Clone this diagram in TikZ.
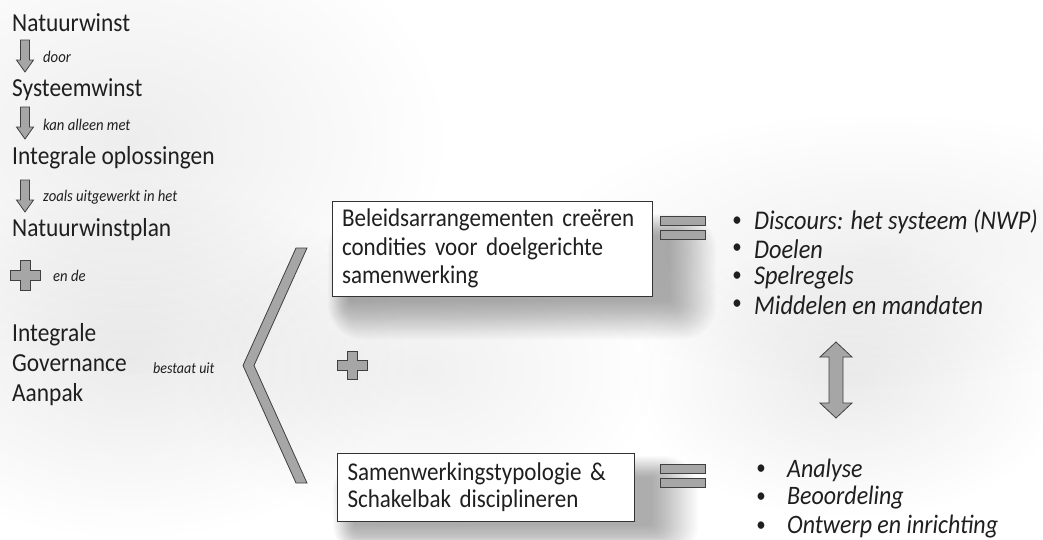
\documentclass[tikz,border=0pt]{standalone}
\usepackage{fontspec}
\setmainfont{Carlito}[FakeStretch=0.9]
\usetikzlibrary{fadings}
\tikzfading[name=glowfade, inner color=transparent!0, outer color=transparent!100]
\begin{document}
\begin{tikzpicture}[x=1pt,y=-1pt,
  txt/.style={anchor=west,inner sep=0pt,text=black!88,font=\fontsize{26}{30}\selectfont},
  lbl/.style={anchor=west,inner sep=0pt,text=black!88,font=\fontsize{16.3}{18}\selectfont\itshape},
  itm/.style={anchor=west,inner sep=0pt,text=black!88,font=\fontsize{27}{27}\selectfont\itshape},
  bul/.style={anchor=center,inner sep=0pt,text=black!88,font=\fontsize{21}{20}\selectfont},
  boxnode/.style={draw=black!80,line width=0.9pt,fill=white,align=left,inner xsep=10pt,
     text=black!88,font=\fontsize{25.6}{28.5}\selectfont},
  shp/.style={fill=black!35,draw=black!75,line width=0.8pt,line join=miter},
  halo/.style={fill=black,path fading=glowfade}
]
\useasboundingbox (0,0) rectangle (1043,539);
\fill[white] (0,0) rectangle (1043,539);

% faint halos
\fill[halo,opacity=0.08] (130,360) ellipse (280pt and 180pt);
\fill[halo,opacity=0.07] (130,140) ellipse (320pt and 240pt);
\fill[halo,opacity=0.06] (420,370) ellipse (240pt and 160pt);
\fill[halo,opacity=0.08] (850,380) ellipse (220pt and 140pt);
\fill[halo,opacity=0.06] (880,250) ellipse (340pt and 140pt);

% soft shadows behind boxes
\foreach \i in {1,...,22}{
  \fill[black,opacity=0.016,rounded corners=\i*1.6pt]
    (350-\i*1.0,236-\i*1.0) rectangle (668+\i*2.2,300+\i*1.8);
  \fill[black,opacity=0.014,rounded corners=\i*1.6pt]
    (355-\i*1.0,478-\i*1.0) rectangle (650+\i*2.2,524+\i*1.6);
}

% left column
\node[txt] (n1) at (12,23) {Natuurwinst};
\node[txt] (n2) at (12,90) {Systeemwinst};
\node[txt] (n3) at (12,158) {Integrale oplossingen};
\node[txt] (n4) at (12,230) {Natuurwinstplan};
\node[txt,align=left] (n5) at (12,365) {Integrale\\Governance\\Aanpak};

\foreach \t in {40,107,180}{
  \draw[shp] (25-4.5,\t) -- (25+4.5,\t) -- (25+4.5,\t+20) -- (25+8.5,\t+20) -- (25,\t+32)
     -- (25-8.5,\t+20) -- (25-4.5,\t+20) -- cycle;
}
\node[lbl] (l1) at (43,57) {door};
\node[lbl] (l2) at (43,125) {kan alleen met};
\node[lbl] (l3) at (43,197) {zoals uitgewerkt in het};

% plus signs
\draw[shp] (25-5,275-15) -- (25+5,275-15) -- (25+5,275-5) -- (25+15,275-5) -- (25+15,275+5)
  -- (25+5,275+5) -- (25+5,275+15) -- (25-5,275+15) -- (25-5,275+5) -- (25-15,275+5)
  -- (25-15,275-5) -- (25-5,275-5) -- cycle;
\node[lbl] (l4) at (53,276) {en de};
\node[lbl,font=\fontsize{15.6}{18}\selectfont\itshape] (l5) at (153,368) {bestaat uit};

\draw[shp] (352-5,365-14) -- (352+5,365-14) -- (352+5,365-5) -- (352+15,365-5) -- (352+15,365+5)
  -- (352+5,365+5) -- (352+5,365+14) -- (352-5,365+14) -- (352-5,365+5) -- (352-15,365+5)
  -- (352-15,365-5) -- (352-5,365-5) -- cycle;

% chevron
\draw[shp] (296,248) -- (307,248) -- (254,365.5) -- (307,483) -- (296,483) -- (243,365.5) -- cycle;

% boxes
\node[boxnode,minimum width=320pt,minimum height=95pt,text width=300pt] (b1) at (492,248.5)
  {Beleidsarrangementen creëren\\condities voor doelgerichte\\samenwerking};
\node[boxnode,minimum width=297pt,minimum height=68pt,text width=276pt,font=\fontsize{25.6}{27}\selectfont] (b2) at (485.5,487)
  {Samenwerkingstypologie \&\\Schakelbak disciplineren};

% equals signs
\draw[shp] (660,216) rectangle (705,225);
\draw[shp] (660,230) rectangle (705,239);
\draw[shp] (660,464) rectangle (705,473);
\draw[shp] (660,478) rectangle (705,487);

% bullet lists
\foreach \y/\t [count=\k] in {222/{Discours: het systeem (NWP)},249/Doelen,277/Spelregels,305/{Middelen en mandaten}}{
  \node[bul] (ba\k) at (737,\y) {\textbullet};
  \node[itm] (ia\k) at (754,\y) {\t};
}
\foreach \y/\t [count=\k] in {470/Analyse,498/Beoordeling,527/{Ontwerp en inrichting}}{
  \node[bul] (bb\k) at (761,\y) {\textbullet};
  \node[itm,font=\fontsize{26.6}{27}\selectfont\itshape] (ib\k) at (787,\y) {\t};
}

% double arrow
\draw[shp] (836,342) -- (852,357) -- (843,357) -- (843,403) -- (852,403) -- (836,418)
  -- (820,403) -- (829,403) -- (829,357) -- (820,357) -- cycle;
\end{tikzpicture}
\end{document}
